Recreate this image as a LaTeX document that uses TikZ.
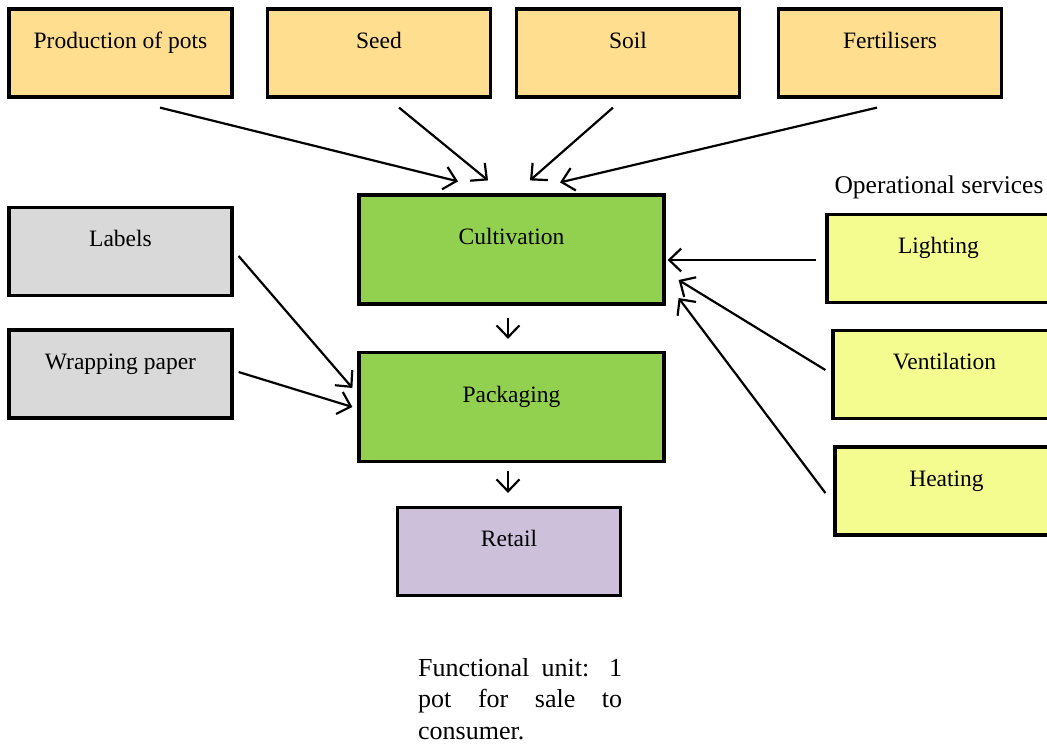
\documentclass[tikz,border=0pt]{standalone}
\usepackage{fontspec}
\setmainfont{Liberation Serif}
\usetikzlibrary{arrows.meta,calc,positioning}
\definecolor{inputcol}{RGB}{255,222,143}
\definecolor{processcol}{RGB}{146,208,80}
\definecolor{packcol}{RGB}{217,217,217}
\definecolor{servicecol}{RGB}{244,251,143}
\definecolor{retailcol}{RGB}{204,192,218}
\tikzset{>={Straight Barb[length=12pt,width=23pt]}, % open arrow heads
flow/.style={->, line width=2.2pt}, % the arrows between the boxes
box/.style={draw, line width=3.2pt, minimum width=223pt, minimum height=88pt, inner sep=0pt,
  text height=12pt, text depth=22pt, font=\fontsize{23.5}{28}\selectfont}, % text sits near the top
bigbox/.style={box, fill=processcol, minimum width=305pt, minimum height=109pt},
}

\begin{document}
\begin{tikzpicture}[x=1pt,y=-1pt]
\clip (0,0) rectangle (1047,747);
\fill[white] (0,0) rectangle (1047,747);
% inputs
\node[box, fill=inputcol] (pots) at (120.5,53) {Production of pots};
\node[box, fill=inputcol] (seed) at (379,53) {Seed};
\node[box, fill=inputcol] (soil) at (628,53) {Soil};
\node[box, fill=inputcol] (fert) at (890,53) {Fertilisers};
% main chain
\node[bigbox] (cult) at (511.5,249.5) {Cultivation};
\node[bigbox] (pack) at (511.5,407) {Packaging};
\node[box, fill=retailcol] (retail) at (509,551.5) {Retail};
% packaging materials
\node[box, fill=packcol] (labels) at (120.5,251.5) {Labels};
\node[box, fill=packcol] (wrap) at (120.5,374) {Wrapping paper};
% operational services
\node[font=\fontsize{25.5}{30}\selectfont, inner sep=0pt] (ops) at (939,187) {Operational services};
\node[box, fill=servicecol] (light) at (938.5,258.5) {Lighting};
\node[box, fill=servicecol] (vent) at (944.5,374.5) {Ventilation};
\node[box, fill=servicecol] (heat) at (946.5,491) {Heating};
\node[anchor=north west, inner sep=0pt, text width=204pt, align=justify,
  font=\fontsize{26}{31.5}\selectfont] (unit) at (418,658)
  {Functional unit: 1\linebreak pot for sale to\linebreak consumer.};

\draw[flow] ($(pots.south)+(39.5,9)$) -- ($(cult.north)+(-53.5,-12)$);
\draw[flow] ($(seed.south)+(20,9)$) -- ($(cult.north)+(-23.5,-13)$);
\draw[flow] ($(soil.south)+(-15,9)$) -- ($(cult.north)+(18.5,-13)$);
\draw[flow] ($(fert.south)+(-13,9)$) -- ($(cult.north)+(48.5,-11)$);
\draw[flow] ($(light.west)+(-9,1.5)$) -- ($(cult.east)+(2,10.5)$);
\draw[flow] ($(vent.west)+(-6,-4.5)$) -- ($(cult.east)+(13,30.5)$);
\draw[flow] ($(heat.west)+(-8,2)$) -- ($(cult.east)+(13,48.5)$);
\draw[flow] ($(labels.east)+(5,4.5)$) -- ($(pack.west)+(-5,-19)$);
\draw[flow] ($(wrap.east)+(5,-2)$) -- ($(pack.west)+(-5,0)$);
\draw[flow] ($(cult.south)+(-3.5,12)$) -- ($(pack.north)+(-3.5,-12)$);
\draw[flow] ($(pack.south)+(-3.5,8)$) -- ($(retail.north)+(-1,-13)$);
\end{tikzpicture}
\end{document}
